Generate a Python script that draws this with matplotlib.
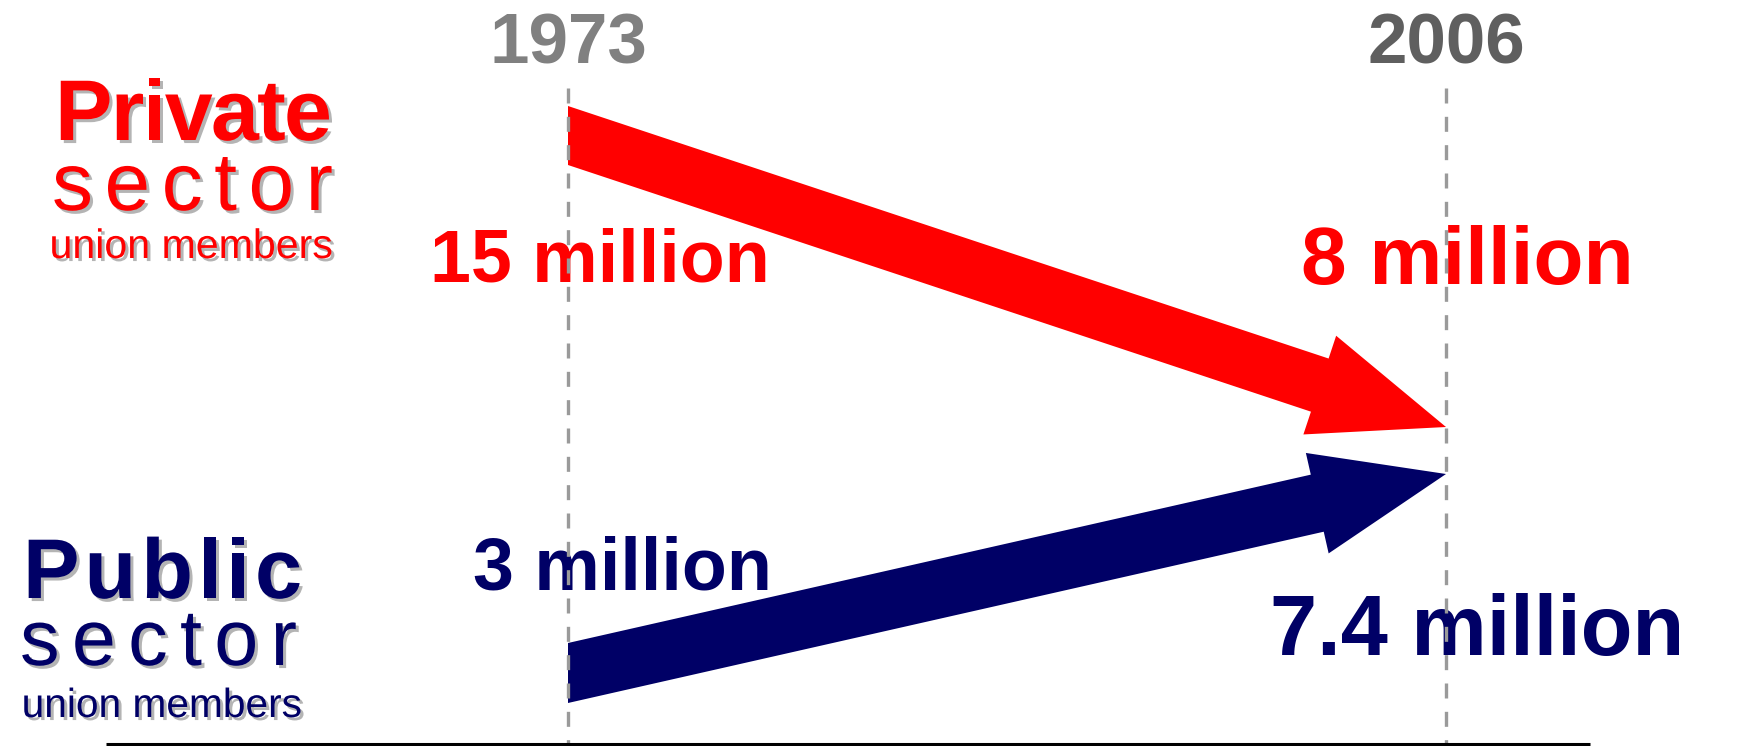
import numpy as np
import matplotlib
matplotlib.use('Agg')
import matplotlib.pyplot as plt
import matplotlib.patheffects as pe
from matplotlib.patches import Polygon

''' data '''
years = [1973, 2006]
private = [15, 8]      # million union members
public = [3, 7.4]

RED = '#ff0000'
NAVY = '#000066'

plt.rcParams['font.family'] = 'Liberation Sans'

W, H = 1744, 746
fig = plt.figure(figsize=(W/100, H/100), dpi=100)
ax = fig.add_axes([0, 0, 1, 1])
ax.axis('off')

# x axis in years, y axis in pixel-like layout units (top = 0)
yearPx = (568, 1446)
k = (yearPx[1] - yearPx[0]) / (years[1] - years[0])
x0 = years[0] - yearPx[0] / k
ax.set_xlim(x0, x0 + W / k)
ax.set_ylim(H, 0)

def px(x):
    return x0 + x / k

def arrow(yTop, yBot, tipY, headW, headLen, color):
    xs = (years[0] - x0) * k
    xe = (years[1] - x0) * k
    c0 = np.array([xs, (yTop + yBot) / 2.])
    tip = np.array([xe, tipY])
    d = (tip - c0) / np.linalg.norm(tip - c0)
    n = np.array([-d[1], d[0]])
    half = (yBot - yTop) / 2. * abs(d[0])
    base = tip - headLen * d
    pts = [(xs, yTop), base - n*half, base - n*headW/2, tip,
           base + n*headW/2, base + n*half, (xs, yBot)]
    pts = [(px(p[0]), p[1]) for p in pts]
    ax.add_patch(Polygon(pts, closed=True, facecolor=color, edgecolor='none', zorder=3))

arrow(106, 165, 427, 104, 133, RED)
arrow(643, 703, 474, 103, 132, NAVY)

# year guide lines + base line
ax.vlines(years, 88, 743, colors='#9a9a9a', linestyles=(0, (4.5, 4)), linewidth=2.4, zorder=6)
ax.hlines(744, px(106), px(1590), colors='black', linewidth=2.2, zorder=6)

ax.text(years[0], 63, str(years[0]), ha='center', va='baseline', fontsize=51,
        fontweight='bold', color='#808080')
ax.text(years[1], 63, str(years[1]), ha='center', va='baseline', fontsize=51,
        fontweight='bold', color='#5f5f5f')

shadow = [pe.SimplePatchShadow(offset=(2.2, -2.2), shadow_rgbFace='#b4b4b4', alpha=1), pe.Normal()]

renderer = fig.canvas.get_renderer()

def spaced(s, xl, xr, y, **kw):
    ts = [ax.text(0, y, ch, ha='left', va='baseline', path_effects=shadow, **kw) for ch in s]
    ws = [t.get_window_extent(renderer).width for t in ts]
    gap = (xr - xl - sum(ws)) / (len(s) - 1)
    x = xl
    for t, w in zip(ts, ws):
        t.set_x(px(x))
        x += w + gap

def fitted(s, xl, xr, y, size, **kw):
    # squeeze the narrow caption into the width it has in the original
    t = ax.text(px(xr), y, s, ha='right', va='baseline', fontsize=size,
                path_effects=shadow, **kw)
    w = t.get_window_extent(renderer).width
    t.set_fontsize(size * (xr - xl) / w)

spaced('Private', 55, 332, 140, fontsize=62, fontweight='bold', color=RED)
spaced('sector', 52, 333, 210, fontsize=59, color=RED)
fitted('union members', 50, 333, 258, 37, color=RED)

spaced('Public', 23, 302, 598, fontsize=61, fontweight='bold', color=NAVY)
spaced('sector', 20, 297, 665, fontsize=57, color=NAVY)
fitted('union members', 22, 302, 717, 37, color=NAVY)

# membership numbers
ax.text(px(430), 282, '%g million' % private[0], ha='left', va='baseline',
        fontsize=53, fontweight='bold', color=RED)
ax.text(px(1301), 284, '%g million' % private[1], ha='left', va='baseline',
        fontsize=59, fontweight='bold', color=RED)
ax.text(px(473), 589, '%g million' % public[0], ha='left', va='baseline',
        fontsize=53, fontweight='bold', color=NAVY)
ax.text(px(1270), 655, '%g million' % public[1], ha='left', va='baseline',
        fontsize=61, fontweight='bold', color=NAVY)

plt.savefig('out.png', dpi=100)
